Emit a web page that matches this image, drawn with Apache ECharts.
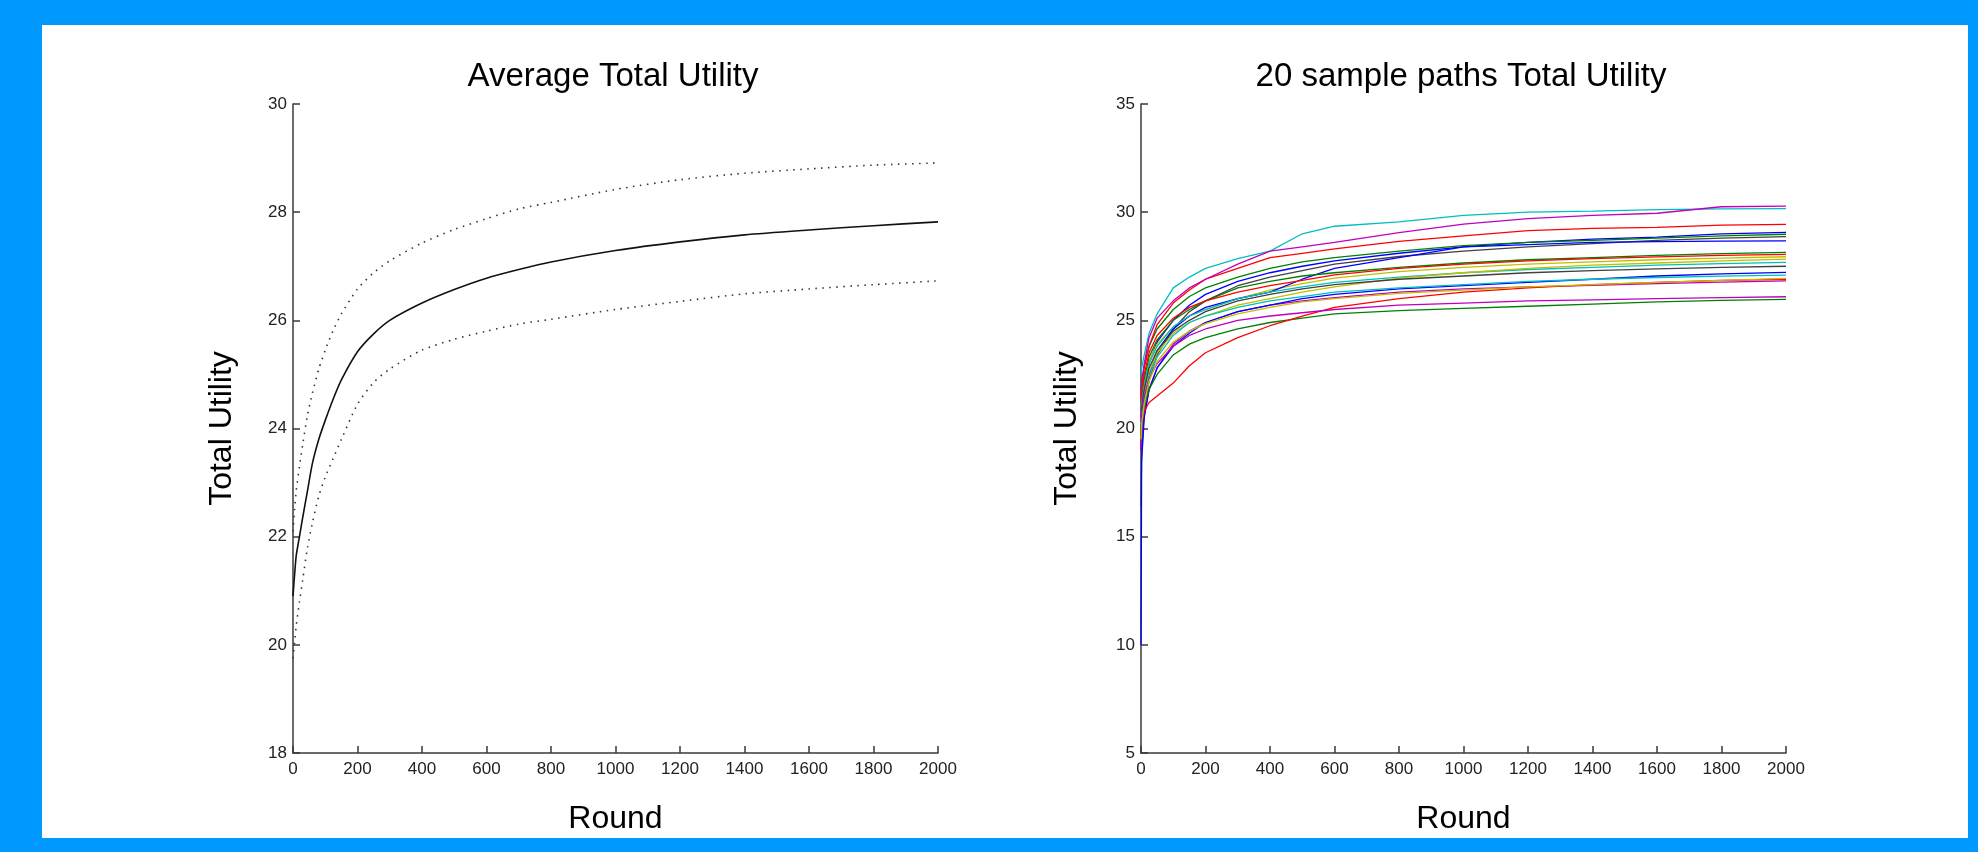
<!DOCTYPE html>
<html>
<head>
<meta charset="utf-8">
<title>Total Utility</title>
<script src="https://cdn.jsdelivr.net/npm/echarts/dist/echarts.min.js"></script>
<style>
  html, body { margin: 0; padding: 0; background: #0099ff; }
  #panel { position: absolute; left: 42px; top: 25px; width: 1926px; height: 813px; background: #fff; }
  #chart { position: absolute; left: 0; top: 0; width: 1978px; height: 852px; }
</style>
</head>
<body>
<div id="panel"></div>
<div id="chart"></div>
<script>
// left panel: average with bounds
var roundsAvg = [0, 5, 10, 20, 30, 45, 60, 80, 100, 125, 150, 200, 250, 300, 400, 500, 600, 700, 800, 1000, 1200, 1400, 1600, 1800, 2000];
var avgMean  = [20.9, 21.3, 21.65, 22.0, 22.35, 22.85, 23.35, 23.8, 24.15, 24.55, 24.9, 25.42, 25.75, 26.0, 26.32, 26.57, 26.78, 26.94, 27.08, 27.29, 27.45, 27.58, 27.67, 27.75, 27.82];
var avgUpper = [22.1, 22.5, 22.85, 23.3, 23.7, 24.25, 24.65, 25.1, 25.45, 25.82, 26.12, 26.58, 26.88, 27.1, 27.43, 27.68, 27.88, 28.06, 28.18, 28.42, 28.6, 28.72, 28.8, 28.87, 28.91];
var avgLower = [19.75, 20.05, 20.35, 20.8, 21.2, 21.8, 22.25, 22.75, 23.1, 23.45, 23.8, 24.45, 24.85, 25.1, 25.45, 25.65, 25.8, 25.93, 26.02, 26.2, 26.35, 26.49, 26.58, 26.66, 26.73];

// right panel: 20 sample paths
var roundsPath = [0, 2, 10, 25, 50, 100, 150, 200, 300, 400, 500, 600, 800, 1000, 1200, 1400, 1600, 1800, 2000];
var samplePaths = [
  [20.0, 20.8, 21.8, 23.0, 24.0, 25.0, 25.7, 26.2, 26.8, 27.2, 27.5, 27.75, 28.1, 28.4, 28.6, 28.75, 28.85, 29.0, 29.07],
  [21.8, 22.2, 22.9, 23.8, 24.6, 25.5, 26.1, 26.5, 27.0, 27.4, 27.7, 27.9, 28.2, 28.45, 28.6, 28.7, 28.8, 28.9, 28.98],
  [21.5, 22.0, 22.8, 23.8, 24.8, 25.8, 26.4, 26.9, 27.4, 27.9, 28.1, 28.3, 28.65, 28.9, 29.15, 29.25, 29.3, 29.4, 29.44],
  [22.5, 22.8, 23.4, 24.4, 25.3, 26.5, 27.0, 27.4, 27.85, 28.2, 29.0, 29.35, 29.55, 29.85, 30.0, 30.05, 30.12, 30.15, 30.16],
  [21.0, 22.0, 23.0, 24.2, 25.1, 25.9, 26.5, 26.9, 27.6, 28.2, 28.4, 28.6, 29.05, 29.45, 29.7, 29.85, 29.95, 30.25, 30.28],
  [21.0, 21.5, 22.2, 23.1, 23.9, 24.7, 25.2, 25.5, 26.0, 26.4, 26.7, 26.95, 27.25, 27.45, 27.6, 27.7, 27.8, 27.88, 27.94],
  [16.4, 18.8, 20.8, 22.2, 23.4, 24.6, 25.4, 25.9, 26.6, 27.0, 27.3, 27.6, 27.95, 28.2, 28.4, 28.55, 28.7, 28.8, 28.87],
  [19.0, 20.0, 21.3, 22.5, 23.6, 24.6, 25.2, 25.6, 26.0, 26.3, 26.9, 27.4, 27.9, 28.4, 28.5, 28.6, 28.64, 28.66, 28.67],
  [20.8, 21.4, 22.3, 23.3, 24.1, 25.0, 25.5, 25.9, 26.5, 26.8, 27.05, 27.2, 27.45, 27.65, 27.8, 27.9, 28.0, 28.08, 28.14],
  [21.2, 21.7, 22.5, 23.5, 24.3, 25.1, 25.6, 25.9, 26.3, 26.6, 26.85, 27.1, 27.4, 27.6, 27.75, 27.85, 27.93, 28.0, 28.05],
  [20.6, 21.2, 22.0, 23.0, 23.8, 24.7, 25.2, 25.5, 26.0, 26.3, 26.55, 26.75, 27.0, 27.2, 27.35, 27.45, 27.55, 27.62, 27.68],
  [19.0, 19.6, 20.6, 21.8, 22.8, 23.9, 24.5, 24.9, 25.4, 25.7, 25.9, 26.05, 26.3, 26.45, 26.55, 26.62, 26.7, 26.77, 26.82],
  [20.2, 20.8, 21.6, 22.6, 23.5, 24.4, 24.9, 25.2, 25.7, 26.0, 26.3, 26.55, 26.95, 27.2, 27.4, 27.55, 27.65, 27.75, 27.83],
  [20.5, 21.0, 21.8, 22.8, 23.6, 24.5, 25.0, 25.4, 25.9, 26.2, 26.45, 26.65, 26.9, 27.05, 27.2, 27.3, 27.38, 27.45, 27.5],
  [10.0, 18.5, 20.5, 21.8, 22.8, 23.8, 24.4, 24.9, 25.4, 25.7, 26.0, 26.2, 26.45, 26.6, 26.75, 26.9, 27.05, 27.15, 27.22],
  [19.5, 20.2, 21.0, 21.8, 22.5, 23.4, 23.9, 24.2, 24.6, 24.9, 25.1, 25.3, 25.45, 25.55, 25.65, 25.75, 25.85, 25.92, 25.97],
  [19.8, 20.3, 20.8, 21.2, 21.5, 22.1, 22.9, 23.5, 24.2, 24.75, 25.2, 25.6, 26.0, 26.3, 26.5, 26.65, 26.75, 26.85, 26.9],
  [20.0, 20.5, 21.3, 22.4, 23.3, 24.3, 24.9, 25.2, 25.6, 25.9, 26.1, 26.3, 26.5, 26.65, 26.8, 26.9, 26.98, 27.04, 27.09],
  [20.3, 20.8, 21.5, 22.3, 23.0, 23.8, 24.3, 24.6, 25.0, 25.2, 25.35, 25.5, 25.7, 25.8, 25.9, 25.95, 26.0, 26.05, 26.09],
  [19.5, 20.2, 21.1, 22.2, 23.1, 24.0, 24.5, 24.85, 25.3, 25.6, 25.85, 26.0, 26.25, 26.4, 26.55, 26.65, 26.75, 26.85, 26.94]
];
var pathColors = ['#0000ff', '#008000', '#ff0000', '#00bfbf', '#bf00bf', '#bfbf00', '#404040'];

var titles = ['Average Total Utility', '20 sample paths Total Utility'];
var xTicks = [0, 2000, 200];
var yLeftTicks = [18, 30, 2];
var yRightTicks = [5, 35, 5];

var fontFamily = 'Arial, "Liberation Sans", Helvetica, sans-serif';

function pairs(xs, ys) {
    var out = [];
    for (var i = 0; i < xs.length; i++) out.push([xs[i], ys[i]]);
    return out;
}

function makeXAxis(idx) {
    return {
        type: 'value', gridIndex: idx,
        min: xTicks[0], max: xTicks[1], interval: xTicks[2],
        name: 'Round', nameLocation: 'middle', nameGap: 50,
        nameTextStyle: { fontSize: 32, color: '#000', fontFamily: fontFamily },
        axisLine: { show: true, lineStyle: { color: '#3a3a3a', width: 1.5 } },
        axisTick: { show: true, inside: true, length: 7, lineStyle: { color: '#3a3a3a', width: 1.5 } },
        axisLabel: { fontSize: 17, color: '#222', margin: 8, fontFamily: fontFamily,
                     formatter: function (v) { return String(v); } },
        splitLine: { show: false }
    };
}

function makeYAxis(idx, t, gap) {
    return {
        type: 'value', gridIndex: idx,
        min: t[0], max: t[1], interval: t[2],
        name: 'Total Utility', nameLocation: 'middle', nameGap: gap, nameRotate: 90,
        nameTextStyle: { fontSize: 32, color: '#000', fontFamily: fontFamily },
        axisLine: { show: true, lineStyle: { color: '#3a3a3a', width: 1.5 } },
        axisTick: { show: true, inside: true, length: 7, lineStyle: { color: '#3a3a3a', width: 1.5 } },
        axisLabel: { fontSize: 17, color: '#222', margin: 6, fontFamily: fontFamily },
        splitLine: { show: false }
    };
}

var series = [
    {
        name: 'mean', type: 'line', xAxisIndex: 0, yAxisIndex: 0,
        data: pairs(roundsAvg, avgMean), showSymbol: false, smooth: 0.25,
        lineStyle: { color: '#111', width: 1.6 }
    },
    {
        name: 'upper', type: 'line', xAxisIndex: 0, yAxisIndex: 0,
        data: pairs(roundsAvg, avgUpper), showSymbol: false, smooth: 0.25,
        lineStyle: { color: '#333', width: 1.6, type: [1.5, 5.5] }
    },
    {
        name: 'lower', type: 'line', xAxisIndex: 0, yAxisIndex: 0,
        data: pairs(roundsAvg, avgLower), showSymbol: false, smooth: 0.25,
        lineStyle: { color: '#333', width: 1.6, type: [1.5, 5.5] }
    }
];

for (var i = 0; i < samplePaths.length; i++) {
    series.push({
        name: 'path ' + (i + 1), type: 'line', xAxisIndex: 1, yAxisIndex: 1,
        data: pairs(roundsPath, samplePaths[i]), showSymbol: false,
        lineStyle: { color: pathColors[i % pathColors.length], width: 1.3 }
    });
}

var chart = echarts.init(document.getElementById('chart'));

var option = {
    animation: false,
    backgroundColor: 'transparent',
    title: [
        { text: titles[0], left: 613, top: 60, padding: 0, textAlign: 'center',
          textStyle: { fontSize: 33, fontWeight: 'normal', color: '#000', fontFamily: fontFamily } },
        { text: titles[1], left: 1461, top: 60, padding: 0, textAlign: 'center',
          textStyle: { fontSize: 33, fontWeight: 'normal', color: '#000', fontFamily: fontFamily } }
    ],
    grid: [
        { left: 293, right: 1040, top: 104, bottom: 99 },
        { left: 1141, right: 192, top: 104, bottom: 99 }
    ],
    xAxis: [ makeXAxis(0), makeXAxis(1) ],
    yAxis: [ makeYAxis(0, yLeftTicks, 55), makeYAxis(1, yRightTicks, 58) ],
    series: series
};

chart.setOption(option);
</script>
</body>
</html>
